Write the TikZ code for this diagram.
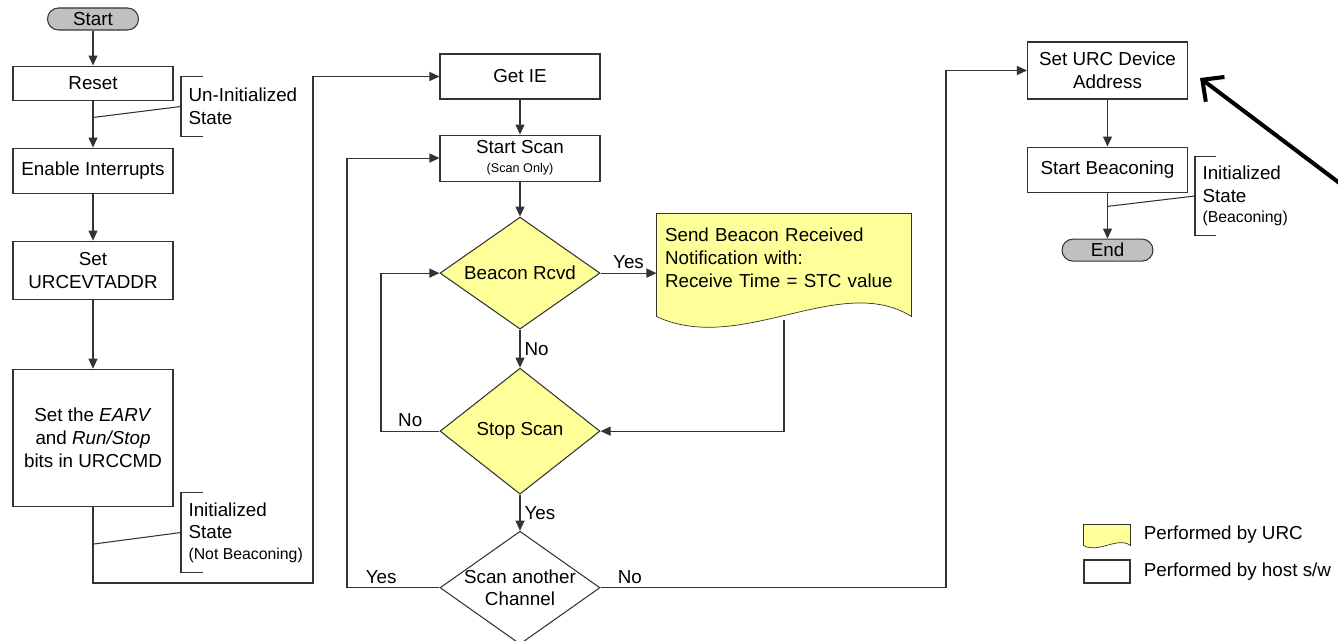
\documentclass[tikz,border=0pt]{standalone}
\usepackage{fontspec}
\setmainfont{Liberation Sans}
\usepackage{xcolor}
\usepackage{tikz}
\usetikzlibrary{arrows.meta,positioning,shapes.geometric,backgrounds,calc}

\definecolor{urcyellow}{HTML}{FFFF99}
\definecolor{termgray}{HTML}{C0C0C0}
\definecolor{flowline}{HTML}{333333}

\newcommand{\flowfont}{\fontsize{10.7}{13}\selectfont}
\newcommand{\midfont}{\fontsize{9}{11}\selectfont}
\newcommand{\tinyfont}{\fontsize{7.2}{9}\selectfont}

% yellow box with a wavy bottom: node, drop of the sides, wave amplitude
\newcommand{\wavebox}[3]{%
  \filldraw[fill=urcyellow, draw=flowline]
    (#1.north west) -- (#1.north east) -- ([yshift=-#2]#1.south east)
    .. controls ([yshift={-#2+1.6*#3}]$(#1.south east)!0.28!(#1.south west)$)
            and ([yshift={-#2-1.4*#3}]$(#1.south east)!0.67!(#1.south west)$)
    .. ([yshift=-#2]#1.south west) -- cycle;}

\begin{document}
\begin{tikzpicture}[
  line width=0.6pt,
  font=\flowfont,
  proc/.style={draw=flowline, fill=white, minimum width=3.2cm, inner sep=0pt, align=center},
  term/.style={draw=flowline, fill=termgray, rounded corners=0.22cm, minimum width=1.82cm,
               minimum height=0.44cm, inner sep=0pt},
  decide/.style={draw=flowline, fill=#1, diamond, minimum width=3.2cm, inner sep=0pt},
  note/.style={align=left, anchor=west, inner xsep=0.14cm, inner ysep=0pt},
  brk/.style={draw=flowline},
  lbl/.style={inner sep=0.08cm},
  arr/.style={-{Triangle[length=0.2cm,width=0.18cm]}, draw=flowline},
  bigarr/.style={-{Straight Barb[length=0.32cm,width=0.62cm]}, line width=2.3pt, black}
]
  \useasboundingbox (0,0) rectangle (26.76,-12.82);

  \node[term] (start) at (1.86,-0.38) {Start};
  \node[proc, minimum height=0.68cm, below=0.7cm of start]   (reset)  {Reset};
  \node[proc, minimum height=0.9cm, below=0.94cm of reset]   (enable) {Enable Interrupts};
  \node[proc, minimum height=1.16cm, below=0.94cm of enable] (urcevt) {Set\\URCEVTADDR};
  \node[proc, minimum height=2.74cm, below=1.38cm of urcevt] (earv)
    {Set the \textit{EARV}\\and \textit{Run/Stop}\\bits in URCCMD};

  \node[note, minimum height=1.18cm] (uninit) at (3.62,-2.13) {Un-Initialized\\State};
  \node[note, minimum height=1.58cm] (initA) at (3.62,-10.65)
    {Initialized\\State\\[-0.05cm]{\midfont(Not Beaconing)}};

  \node[proc, minimum height=0.9cm] (getie) at (10.4,-1.53) {Get IE};
  \node[proc, minimum height=0.92cm, below=0.7cm of getie] (startscan)
    {Start Scan\\[-0.08cm]{\tinyfont(Scan Only)}};
  \node[decide=urcyellow, minimum height=2.24cm, below=0.7cm of startscan] (beacon) {};
  \node (beacontxt) at (beacon) {Beacon Rcvd};
  \node[decide=urcyellow, minimum height=2.52cm, below=0.76cm of beacon] (stopscan) {};
  \node (stoptxt) at (stopscan) {Stop Scan};
  \node[decide=white, minimum height=2.26cm, below=0.72cm of stopscan] (another) {};
  \node[align=center] (anothertxt) at (another) {Scan another\\Channel};

  \node[align=left, text width=4.76cm, minimum width=5.08cm, minimum height=1.76cm,
        inner xsep=0.16cm, inner ysep=0pt] (send) at (15.68,-5.16)
    {Send Beacon Received\\Notification with:\\Receive Time = STC value};

  \node[proc, minimum height=1.14cm] (addr) at (22.15,-1.41) {Set URC Device\\Address};
  \node[proc, minimum height=0.9cm, below=0.94cm of addr] (beaconing) {Start Beaconing};
  \node[term, below=0.92cm of beaconing] (endnode) {End};
  \node[note, minimum height=1.56cm] (initB) at (23.9,-3.92)
    {Initialized\\State\\[-0.05cm]{\midfont(Beaconing)}};

  \node[minimum width=0.92cm, minimum height=0.4cm, inner sep=0pt] (legurc) at (22.14,-10.7) {};
  \node[right=0.14cm of legurc] (legurctxt) {Performed by URC};
  \node[proc, minimum width=0.92cm, minimum height=0.46cm] (leghost) at (22.14,-11.43) {};
  \node[right=0.14cm of leghost] (leghosttxt) {Performed by host s/w};

  \begin{scope}[on background layer]
    \wavebox{send}{0.28cm}{0.56cm}
    \wavebox{legurc}{0cm}{0.12cm}
  \end{scope}

  \coordinate (jmpA)    at (6.26,-11.66);
  \coordinate (loopA)   at (7.62,0);
  \coordinate (loopB)   at (6.94,0);
  \coordinate (loopC)   at (18.92,0);
  \coordinate (sendout) at ([yshift=-0.34cm]send.south);
  \coordinate (pointer) at (27.2,-3.97);

  \draw[arr] (start) -- (reset);
  \draw[arr] (reset) -- (enable);
  \draw[arr] (enable) -- (urcevt);
  \draw[arr] (urcevt) -- (earv);
  \draw[arr] (earv.south) |- (jmpA) |- (getie.west);

  \draw[brk] ([xshift=0.44cm]uninit.north west) -- (uninit.north west)
    -- (uninit.south west) -- ++(0.44,0);
  \draw[brk] ($(reset.south)!0.36!(enable.north)$) -- (uninit.west);
  \draw[brk] ([xshift=0.44cm]initA.north west) -- (initA.north west)
    -- (initA.south west) -- ++(0.44,0);
  \draw[brk] ($(earv.south)!0.49!(earv.south |- jmpA)$) -- (initA.west);

  \draw[arr] (getie) -- (startscan);
  \draw[arr] (startscan) -- (beacon);
  \draw[arr] (beacon.east) -- node[above, lbl] {Yes} (beacon.east -| send.west);
  \draw[arr] (beacon) -- node[right, lbl] {No} (stopscan);
  \draw[arr] (sendout) |- (stopscan.east);
  \draw[arr] (stopscan.west) -- node[above, lbl] {No} (stopscan.west -| loopA) |- (beacon.west);
  \draw[arr] (stopscan) -- node[right, lbl] {Yes} (another);
  \draw[arr] (another.west) -- node[above, lbl, pos=0.63] {Yes} (another.west -| loopB)
    |- (startscan.west);
  \draw[arr] (another.east) -- node[above, lbl, pos=0.085] {No} (another.east -| loopC)
    |- (addr.west);

  \draw[arr] (addr) -- (beaconing);
  \draw[arr] (beaconing) -- (endnode);
  \draw[brk] ([xshift=0.42cm]initB.north west) -- (initB.north west)
    -- (initB.south west) -- ++(0.42,0);
  \draw[brk] ($(beaconing.south)!0.3!(endnode.north)$) -- (initB.west);

  \draw[bigarr] (pointer) -- ([shift={(0.24,-0.15)}]addr.east);
\end{tikzpicture}
\end{document}
